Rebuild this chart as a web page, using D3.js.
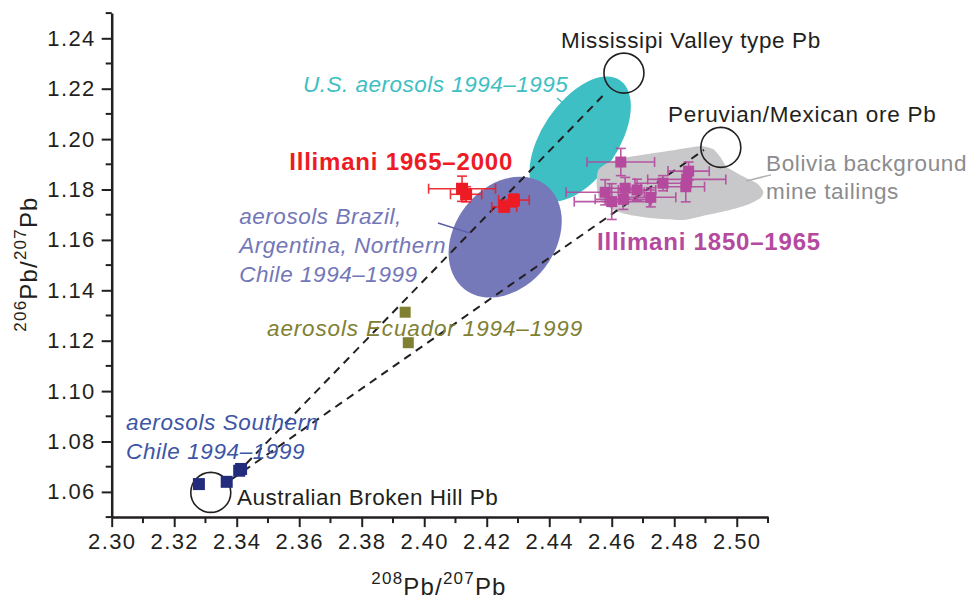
<!DOCTYPE html>
<html>
<head>
<meta charset="utf-8">
<script src="https://cdn.jsdelivr.net/npm/d3@7"></script>
<style>
body { margin: 0; background: #fff; }
svg { font-family: "Liberation Sans", Arial, Helvetica, sans-serif; }
.tick text { font-size: 22px; fill: #231f20; letter-spacing: 1.4px; }
</style>
</head>
<body>
<div class="chart"></div>
<script>
// values (208Pb/207Pb, 206Pb/207Pb)
var xTicks = [2.30, 2.32, 2.34, 2.36, 2.38, 2.40, 2.42, 2.44, 2.46, 2.48, 2.50];
var yTicks = [1.06, 1.08, 1.10, 1.12, 1.14, 1.16, 1.18, 1.20, 1.22, 1.24];

// Illimani 1965-2000: [x, y, xErr, yErr]
var illimaniRecent = [
	[2.4121, 1.1803, 0.0107, 0.0050],
	[2.4134, 1.1781, 0.0050, 0.0030],
	[2.4287, 1.1758, 0.0049, 0.0024],
	[2.4256, 1.1731, 0.0040, 0.0012]
];

// Illimani 1850-1965: [x, y, xErr, yErr]
var illimaniOld = [
	[2.4629, 1.1909, 0.0108, 0.0054],
	[2.4846, 1.1873, 0.0066, 0.0036],
	[2.4840, 1.1840, 0.0125, 0.0020],
	[2.4837, 1.1811, 0.0060, 0.0060],
	[2.4764, 1.1825, 0.0090, 0.0030],
	[2.4681, 1.1798, 0.0060, 0.0043],
	[2.4643, 1.1805, 0.0050, 0.0043],
	[2.4579, 1.1789, 0.0125, 0.0050],
	[2.4600, 1.1752, 0.0120, 0.0071],
	[2.4637, 1.1761, 0.0090, 0.0040],
	[2.4725, 1.1769, 0.0080, 0.0038]
];

var ecuador = [[2.3939, 1.1313], [2.3949, 1.1192]];
var southChile = [[2.3279, 1.0631], [2.3368, 1.0640], [2.3408, 1.0684], [2.3414, 1.0691]];

// end-member fields (circles)
var endMembers = [
	[2.4639, 1.2262],   // Mississippi Valley
	[2.4949, 1.1967],   // Peruvian/Mexican
	[2.3317, 1.0598]    // Broken Hill
];

// mixing lines
var mixLines = [
	[[2.3368, 1.0632], [2.4584, 1.2188]],
	[[2.3385, 1.0651], [2.4895, 1.1957]]
];

// ellipse centres
var usAerosols = [2.4499, 1.2000];
var saAerosols = [2.4259, 1.1611];

// Bolivia background field outline
var bolivia = [
	[2.4557, 1.1877], [2.4595, 1.1910], [2.4659, 1.1930], [2.4765, 1.1950],
	[2.4851, 1.1967], [2.4888, 1.1973], [2.4925, 1.1960], [2.4947, 1.1930],
	[2.4968, 1.1890], [2.5011, 1.1858], [2.5064, 1.1825], [2.5085, 1.1791],
	[2.5075, 1.1765], [2.5032, 1.1738], [2.4979, 1.1719], [2.4904, 1.1699],
	[2.4829, 1.1679], [2.4733, 1.1686], [2.4659, 1.1699], [2.4605, 1.1719],
	[2.4563, 1.1758], [2.4552, 1.1811]
];

var width = 968, height = 599;

var svg = d3.select(".chart").append("svg")
	.attr("width", width)
	.attr("height", height);

var x = d3.scaleLinear().domain([2.30, 2.51]).range([111.7, 768]);
var y = d3.scaleLinear().domain([1.05, 1.25]).range([517.1, 13.1]);

var minorX = d3.range(2.31, 2.515, 0.02);
var minorY = d3.range(1.05, 1.255, 0.02);

// background shapes
svg.append("ellipse")
	.attr("rx", 71).attr("ry", 38)
	.attr("transform", "translate(" + x(usAerosols[0]) + "," + y(usAerosols[1]) + ") rotate(-56)")
	.attr("fill", "#3dbfc4");

svg.append("path")
	.datum(bolivia)
	.attr("d", d3.line().x(function(d){return x(d[0]);}).y(function(d){return y(d[1]);}).curve(d3.curveCardinalClosed.tension(0.3)))
	.attr("fill", "#c8c8ca");

svg.append("ellipse")
	.attr("rx", 66).attr("ry", 50)
	.attr("transform", "translate(" + x(saAerosols[0]) + "," + y(saAerosols[1]) + ") rotate(-52)")
	.attr("fill", "#7579b9");

// leader lines
var leaders = [
	{p: [[2.4425, 1.2163], [2.4448, 1.2139]], c: "#3dbfc4"},
	{p: [[2.4044, 1.1667], [2.4147, 1.1627]], c: "#5a5ea8"},
	{p: [[2.5030, 1.1834], [2.5110, 1.1858]], c: "#b0b0b0"}
];
svg.selectAll(".leader").data(leaders).enter().append("line")
	.attr("class", "leader")
	.attr("x1", function(d){return x(d.p[0][0]);})
	.attr("y1", function(d){return y(d.p[0][1]);})
	.attr("x2", function(d){return x(d.p[1][0]);})
	.attr("y2", function(d){return y(d.p[1][1]);})
	.attr("stroke", function(d){return d.c;})
	.attr("stroke-width", 1.5);

// mixing lines
svg.selectAll(".mix").data(mixLines).enter().append("line")
	.attr("class", "mix")
	.attr("x1", function(d){return x(d[0][0]);})
	.attr("y1", function(d){return y(d[0][1]);})
	.attr("x2", function(d){return x(d[1][0]);})
	.attr("y2", function(d){return y(d[1][1]);})
	.attr("stroke", "#231f20")
	.attr("stroke-width", 2)
	.attr("stroke-dasharray", "8,6");

svg.selectAll(".end").data(endMembers).enter().append("circle")
	.attr("class", "end")
	.attr("cx", function(d){return x(d[0]);})
	.attr("cy", function(d){return y(d[1]);})
	.attr("r", 20)
	.attr("fill", "none")
	.attr("stroke", "#231f20")
	.attr("stroke-width", 1.6);

// error bar series
function drawSeries(data, col, size) {
	var g = svg.append("g");
	var cap = 5;
	data.forEach(function(d){
		var cx = x(d[0]), cy = y(d[1]);
		var x0 = x(d[0] - d[2]), x1 = x(d[0] + d[2]);
		var y0 = y(d[1] - d[3]), y1 = y(d[1] + d[3]);
		var e = g.append("g").attr("stroke", col).attr("stroke-width", 1.6).attr("opacity", 0.9);
		e.append("line").attr("x1", x0).attr("x2", x1).attr("y1", cy).attr("y2", cy);
		e.append("line").attr("x1", x0).attr("x2", x0).attr("y1", cy - cap).attr("y2", cy + cap);
		e.append("line").attr("x1", x1).attr("x2", x1).attr("y1", cy - cap).attr("y2", cy + cap);
		e.append("line").attr("x1", cx).attr("x2", cx).attr("y1", y0).attr("y2", y1);
		e.append("line").attr("x1", cx - cap).attr("x2", cx + cap).attr("y1", y0).attr("y2", y0);
		e.append("line").attr("x1", cx - cap).attr("x2", cx + cap).attr("y1", y1).attr("y2", y1);
	});
	g.selectAll("rect").data(data).enter().append("rect")
		.attr("x", function(d){return x(d[0]) - size / 2;})
		.attr("y", function(d){return y(d[1]) - size / 2;})
		.attr("width", size).attr("height", size)
		.attr("fill", col);
}
drawSeries(illimaniOld, "#b4499e", 11);
drawSeries(illimaniRecent, "#ed1c24", 12);

svg.selectAll(".ecu").data(ecuador).enter().append("rect")
	.attr("class", "ecu")
	.attr("x", function(d){return x(d[0]) - 5.5;})
	.attr("y", function(d){return y(d[1]) - 5.5;})
	.attr("width", 11).attr("height", 11)
	.attr("fill", "#808033");

svg.selectAll(".chl").data(southChile).enter().append("rect")
	.attr("class", "chl")
	.attr("x", function(d){return x(d[0]) - 6;})
	.attr("y", function(d){return y(d[1]) - 6;})
	.attr("width", 12).attr("height", 12)
	.attr("fill", "#232c7c");

// axes
var xAxis = svg.append("g")
	.attr("transform", "translate(0," + y(1.05) + ")")
	.call(d3.axisBottom(x).tickValues(xTicks).tickFormat(d3.format(".2f")).tickSize(10).tickSizeOuter(0).tickPadding(6));
var yAxis = svg.append("g")
	.attr("transform", "translate(" + x(2.30) + ",0)")
	.call(d3.axisLeft(y).tickValues(yTicks).tickFormat(d3.format(".2f")).tickSize(10).tickSizeOuter(0).tickPadding(6));

xAxis.selectAll(".minor").data(minorX).enter().append("line")
	.attr("x1", function(d){return x(d);}).attr("x2", function(d){return x(d);})
	.attr("y1", 0).attr("y2", 6);
yAxis.selectAll(".minor").data(minorY).enter().append("line")
	.attr("y1", function(d){return y(d);}).attr("y2", function(d){return y(d);})
	.attr("x1", 0).attr("x2", -6);

[xAxis, yAxis].forEach(function(a){
	a.selectAll("path, line").attr("stroke", "#231f20").attr("stroke-width", 2);
	a.select(".domain").attr("stroke-width", 2.5);
});

// axis titles
function isoTitle(t) {
	t.attr("text-anchor", "middle")
		.attr("font-size", 24).attr("fill", "#231f20")
		.attr("letter-spacing", 1.2);
	t.append("tspan").attr("font-size", 17).attr("dy", -11).text(t.attr("data-a"));
	t.append("tspan").attr("dy", 11).text("Pb/");
	t.append("tspan").attr("font-size", 17).attr("dy", -11).text("207");
	t.append("tspan").attr("dy", 11).text("Pb");
}
svg.append("text")
	.attr("x", 439).attr("y", 595)
	.attr("data-a", "208")
	.call(isoTitle);
svg.append("text")
	.attr("transform", "translate(37,264) rotate(-90)")
	.attr("data-a", "206")
	.call(isoTitle);

// annotations
function label(lines, px, py, col, opts) {
	var t = svg.append("text")
		.attr("x", x(px)).attr("y", y(py))
		.attr("fill", col)
		.attr("font-size", opts.size || 22)
		.attr("letter-spacing", opts.ls || 0.7)
		.attr("font-style", opts.italic ? "italic" : null)
		.attr("font-weight", opts.bold ? "bold" : null);
	lines.forEach(function(l, i){
		t.append("tspan").attr("x", x(px)).attr("dy", i ? opts.lh : 0).text(l);
	});
}

label(["Mississipi Valley type Pb"], 2.4438, 1.2362, "#231f20", {size: 22.5, ls: 0.6});
label(["U.S. aerosols 1994\u20131995"], 2.3612, 1.2187, "#3dbfc4", {italic: true, size: 22.5, ls: 0.5});
label(["Peruvian/Mexican ore Pb"], 2.4780, 1.2068, "#231f20", {size: 22.5, ls: 0.75});
label(["Illimani 1965\u20132000"], 2.3568, 1.1877, "#ed1c24", {bold: true, size: 24, ls: 0.8});
label(["Bolivia background", "mine tailings"], 2.5094, 1.1873, "#8c8c8e", {size: 22.5, lh: 28, ls: 0.6});
label(["aerosols Brazil,", "Argentina, Northern", "Chile 1994\u20131999"], 2.3408, 1.1663, "#7377b8", {italic: true, size: 22.5, lh: 29, ls: 0.55});
label(["Illimani 1850\u20131965"], 2.4553, 1.1560, "#b4499e", {bold: true, size: 24, ls: 0.8});
label(["aerosols Ecuador 1994\u20131999"], 2.3497, 1.1219, "#808033", {italic: true, size: 22.5, ls: 0.85});
label(["aerosols Southern", "Chile 1994\u20131999"], 2.3046, 1.0846, "#3d55a5", {italic: true, size: 22.5, lh: 29, ls: 0.6});
label(["Australian Broken Hill Pb"], 2.3401, 1.0548, "#231f20", {size: 22.5, ls: 0.5});
</script>
</body>
</html>
